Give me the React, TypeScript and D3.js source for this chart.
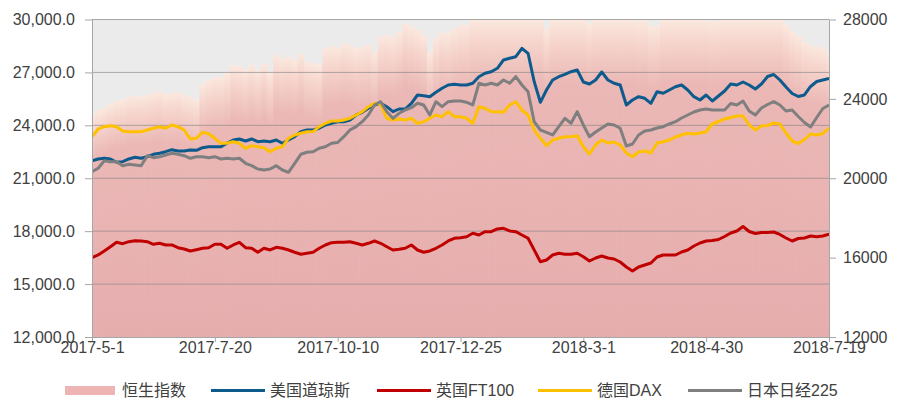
import React, { useEffect, useRef } from "react";
import * as d3 from "d3";

// x axis: 121 sample points, one label every 20 samples
const xTickLabels = ["2017-5-1", "2017-7-20", "2017-10-10", "2017-12-25", "2018-3-1", "2018-4-30", "2018-7-19"];
const leftTicks = [12000, 15000, 18000, 21000, 24000, 27000, 30000];
const rightTicks = [12000, 16000, 20000, 24000, 28000];

const seriesNames = ["恒生指数", "美国道琼斯", "英国FT100", "德国DAX", "日本日经225"];

// right axis (clipped at 28000 in the picture)
const hangSeng = [
  23188, 23440, 23540, 23742, 23893, 23944, 24095, 24145, 24145, 24196, 24296, 24397, 24246, 24296, 24347, 24196, 24095, 23944, 24750, 24951, 25103,
  25118, 25289, 25707, 25622, 25455, 25707, 25455, 25793, 25370, 26211, 26045, 26125, 25959, 26297, 25874, 25793, 25707, 26549, 26629, 26600,
  26801, 26715, 26549, 26629, 26715, 26377, 27133, 27219, 27133, 27385, 27809, 27637, 27471, 27219, 26377, 27053, 27385, 27305, 27557, 27720,
  27720, 28300, 28600, 29100, 29300, 29600, 29800, 30200, 30500, 31000, 31500, 30800, 28000, 27560, 29000, 30200, 30500, 30800, 30600, 29500,
  27800, 29800, 30300, 30600, 30400, 30000, 29500, 29800, 27900, 27950, 27650, 27700, 29600, 30200, 30500, 30400, 30600, 30800, 30700, 30500,
  27900, 27950, 30200, 30800, 31000, 30600, 30200, 29800, 29500, 29000, 28700, 28300, 27723, 27370, 27169, 26866, 26715, 26639, 26539, 26312,
];

// left axis
const dowJones = [
  21995, 22092, 22131, 22092, 21905, 21939, 22092, 22188, 22131, 22222, 22358, 22415, 22506, 22619, 22545, 22545, 22602, 22585, 22732, 22789, 22789,
  22789, 22982, 23169, 23226, 23112, 23226, 23073, 23112, 23073, 23169, 22982, 23169, 23356, 23639, 23736, 23736, 23832, 24019, 24116, 24206,
  24206, 24303, 24586, 24739, 24966, 25153, 25249, 25057, 24773, 24926, 24926, 25249, 25720, 25680, 25624, 25873, 26100, 26287, 26326, 26287,
  26287, 26383, 26757, 26950, 27041, 27234, 27704, 27800, 27891, 28367, 28084, 26474, 25306, 26003, 26570, 26757, 26893, 27041, 27137, 26457,
  26343, 26570, 27024, 26570, 26383, 26287, 25153, 25436, 25624, 25533, 25249, 25907, 25816, 26003, 26190, 26287, 26003, 25624, 25436, 25720,
  25380, 25663, 25947, 26343, 26287, 26457, 26287, 26060, 26343, 26769, 26882, 26570, 26173, 25805, 25635, 25720, 26202, 26485, 26570, 26655,
];

// left axis
const ftse100 = [
  16496, 16650, 16876, 17120, 17369, 17290, 17403, 17460, 17443, 17403, 17256, 17313, 17216, 17216, 17063, 16990, 16876, 16950, 17029, 17063, 17256,
  17256, 17029, 17216, 17369, 17063, 17029, 16803, 17029, 16933, 17086, 17029, 16933, 16803, 16689, 16746, 16803, 17029, 17216, 17347, 17369,
  17369, 17403, 17313, 17216, 17313, 17443, 17313, 17120, 16933, 16973, 17029, 17216, 16933, 16803, 16876, 17029, 17216, 17443, 17596, 17630,
  17687, 17880, 17783, 17970, 17970, 18123, 18163, 18010, 17970, 17783, 17596, 16933, 16270, 16366, 16650, 16746, 16689, 16689, 16746, 16553,
  16309, 16479, 16593, 16479, 16423, 16253, 15969, 15742, 15969, 16083, 16196, 16536, 16650, 16650, 16650, 16820, 16933, 17160, 17330, 17443,
  17472, 17528, 17698, 17897, 18010, 18265, 17982, 17868, 17925, 17925, 17953, 17812, 17613, 17443, 17585, 17613, 17727, 17687, 17727, 17829,
];

// left axis
const dax = [
  23356, 23792, 23923, 23980, 23923, 23679, 23639, 23639, 23639, 23736, 23832, 23923, 23832, 24019, 23923, 23736, 23225, 23265, 23605, 23526, 23265,
  22982, 22982, 23073, 22982, 22698, 22846, 22789, 22732, 22506, 22698, 22789, 23265, 23452, 23549, 23639, 23639, 23923, 24116, 24246, 24246,
  24303, 24399, 24586, 24773, 25057, 25249, 25193, 24399, 24303, 24359, 24303, 24399, 24116, 24206, 24399, 24586, 24490, 24773, 24490, 24490,
  24399, 24116, 25057, 24966, 24773, 24773, 24739, 25153, 25340, 24870, 24586, 23736, 23265, 22846, 23169, 23265, 23356, 23356, 23413, 22789,
  22375, 22885, 23169, 22999, 23055, 22885, 22432, 22222, 22489, 22545, 22432, 22999, 23073, 23169, 23339, 23452, 23549, 23509, 23566, 23639,
  24076, 24218, 24359, 24444, 24529, 24529, 24019, 23736, 23963, 23991, 24133, 24076, 23566, 23112, 22970, 23197, 23509, 23452, 23537, 23849,
];

// right axis
const nikkei225 = [
  20331, 20502, 20885, 20835, 20835, 20633, 20704, 20668, 20633, 21137, 21036, 21086, 21172, 21258, 21207, 21137, 21006, 21086, 21086, 21036, 21086,
  20971, 21006, 20971, 21006, 20754, 20633, 20467, 20416, 20467, 20633, 20416, 20300, 20754, 21207, 21308, 21338, 21510, 21590, 21762, 21800,
  22094, 22432, 22598, 22850, 23188, 23692, 23858, 23354, 23021, 23273, 23440, 23556, 23777, 23692, 23188, 23858, 23606, 23858, 23893, 23893,
  23828, 23692, 24785, 24699, 24785, 24699, 24951, 24785, 25118, 24699, 24362, 22850, 22432, 22316, 22180, 22598, 23021, 22770, 23354, 22684,
  22094, 22331, 22533, 22734, 22684, 22518, 21626, 21726, 22180, 22382, 22432, 22533, 22598, 22734, 22850, 23037, 23188, 23339, 23440, 23490,
  23440, 23440, 23440, 23767, 23692, 23893, 23389, 23188, 23540, 23717, 23858, 23692, 23389, 23440, 23112, 22810, 22583, 23062, 23515, 23692,
];

const FONT = "'Liberation Sans', Arial, 'Noto Sans CJK SC', sans-serif";

export default function App() {
  const ref = useRef<SVGSVGElement>(null);

  useEffect(() => {
    const svg = d3.select(ref.current);
    svg.selectAll("*").remove();

    const plot = { left: 92, right: 829, top: 19.5, bottom: 337 };
    const x = d3.scaleLinear().domain([0, dowJones.length - 1]).range([plot.left, plot.right]);
    const yL = d3.scaleLinear().domain([12000, 30000]).range([plot.bottom, plot.top]);
    const yR = d3.scaleLinear().domain([12000, 28000]).range([plot.bottom, plot.top]);
    const step = x(1) - x(0);

    const defs = svg.append("defs");
    defs.append("clipPath").attr("id", "plotClip")
      .append("rect")
      .attr("x", plot.left).attr("y", plot.top)
      .attr("width", plot.right - plot.left).attr("height", plot.bottom - plot.top);
    const grad = defs.append("linearGradient").attr("id", "hsiGrad")
      .attr("x1", 0).attr("y1", 0).attr("x2", 0).attr("y2", 1);
    grad.append("stop").attr("offset", "0").attr("stop-color", "#fbe8de");
    grad.append("stop").attr("offset", "0.08").attr("stop-color", "#f5d3cb");
    grad.append("stop").attr("offset", "0.2").attr("stop-color", "#ebb8b6");
    grad.append("stop").attr("offset", "1").attr("stop-color", "#e6adad");

    // plot background
    svg.append("rect")
      .attr("x", plot.left).attr("y", plot.top)
      .attr("width", plot.right - plot.left).attr("height", plot.bottom - plot.top)
      .attr("fill", "#ebebeb");

    // 恒生指数 columns (right axis)
    svg.append("g").attr("clip-path", "url(#plotClip)")
      .selectAll("rect")
      .data(hangSeng)
      .enter().append("rect")
      .attr("x", (d, i) => x(i) - step / 2)
      .attr("width", step + 0.6)
      .attr("y", d => yR(Math.min(d, 28000)))
      .attr("height", d => plot.bottom - yR(Math.min(d, 28000)))
      .attr("fill", "url(#hsiGrad)");

    // gridlines
    svg.append("g")
      .selectAll("line")
      .data(leftTicks.filter(t => t > 12000))
      .enter().append("line")
      .attr("x1", plot.left).attr("x2", plot.right)
      .attr("y1", d => yL(d)).attr("y2", d => yL(d))
      .attr("stroke", "#7f7f7f")
      .attr("stroke-opacity", 0.6)
      .attr("stroke-width", 1);

    // lines
    const lines = [
      { data: dowJones, y: yL, color: "#0d5a8c" },
      { data: ftse100, y: yL, color: "#c00000" },
      { data: dax, y: yL, color: "#ffc000" },
      { data: nikkei225, y: yR, color: "#7f7f7f" },
    ];
    const lineG = svg.append("g").attr("clip-path", "url(#plotClip)");
    lines.forEach(s => {
      const line = d3.line<number>()
        .x((d, i) => x(i))
        .y(d => s.y(d));
      lineG.append("path")
        .datum(s.data)
        .attr("d", line)
        .attr("fill", "none")
        .attr("stroke", s.color)
        .attr("stroke-width", 3)
        .attr("stroke-linejoin", "round");
    });

    const styleAxis = (g: d3.Selection<SVGGElement, unknown, null, undefined>) => {
      g.select(".domain").attr("stroke", "#a6a6a6");
      g.selectAll(".tick line").attr("stroke", "#a6a6a6");
      g.selectAll(".tick text")
        .attr("fill", "#404040")
        .attr("font-size", 16)
        .attr("font-family", FONT);
    };

    // left axis
    svg.append("g")
      .attr("transform", `translate(${plot.left},0)`)
      .call(d3.axisLeft(yL).tickValues(leftTicks).tickFormat(d3.format(",.1f")).tickSize(7).tickSizeOuter(0).tickPadding(10))
      .call(styleAxis);

    // right axis
    svg.append("g")
      .attr("transform", `translate(${plot.right},0)`)
      .call(d3.axisRight(yR).tickValues(rightTicks).tickFormat(d3.format("d")).tickSize(7).tickSizeOuter(0).tickPadding(7))
      .call(styleAxis);

    // bottom axis
    const xTickIdx = xTickLabels.map((_, i) => i * 20);
    svg.append("g")
      .attr("transform", `translate(0,${plot.bottom})`)
      .call(d3.axisBottom(x).tickValues(xTickIdx).tickFormat((d, i) => xTickLabels[i]).tickSize(5).tickSizeOuter(0).tickPadding(0))
      .call(styleAxis);

    // top border
    svg.append("line")
      .attr("x1", plot.left).attr("x2", plot.right)
      .attr("y1", plot.top).attr("y2", plot.top)
      .attr("stroke", "#a6a6a6");

    // legend
    const legendX = [65, 211, 377, 538, 688];
    const legendColors = ["#eeb4b4", "#0d5a8c", "#c00000", "#ffc000", "#7f7f7f"];
    const legendY = 390.5;
    const legend = svg.append("g");
    seriesNames.forEach((name, i) => {
      if (i === 0) {
        legend.append("rect")
          .attr("x", legendX[i]).attr("y", legendY - 4.5)
          .attr("width", 50).attr("height", 9)
          .attr("fill", legendColors[i]);
      } else {
        legend.append("line")
          .attr("x1", legendX[i]).attr("x2", legendX[i] + 54)
          .attr("y1", legendY).attr("y2", legendY)
          .attr("stroke", legendColors[i])
          .attr("stroke-width", 3);
      }
      legend.append("text")
        .attr("x", legendX[i] + (i === 0 ? 57 : 59))
        .attr("y", legendY)
        .attr("dy", "0.35em")
        .attr("fill", "#404040")
        .attr("font-size", 16)
        .attr("font-family", FONT)
        .text(name);
    });
  }, []);

  return (
    <div style={{ position: "absolute", left: 0, top: 0 }}>
      <svg ref={ref} width={903} height={401} style={{ display: "block", background: "#fff" }} />
    </div>
  );
}
